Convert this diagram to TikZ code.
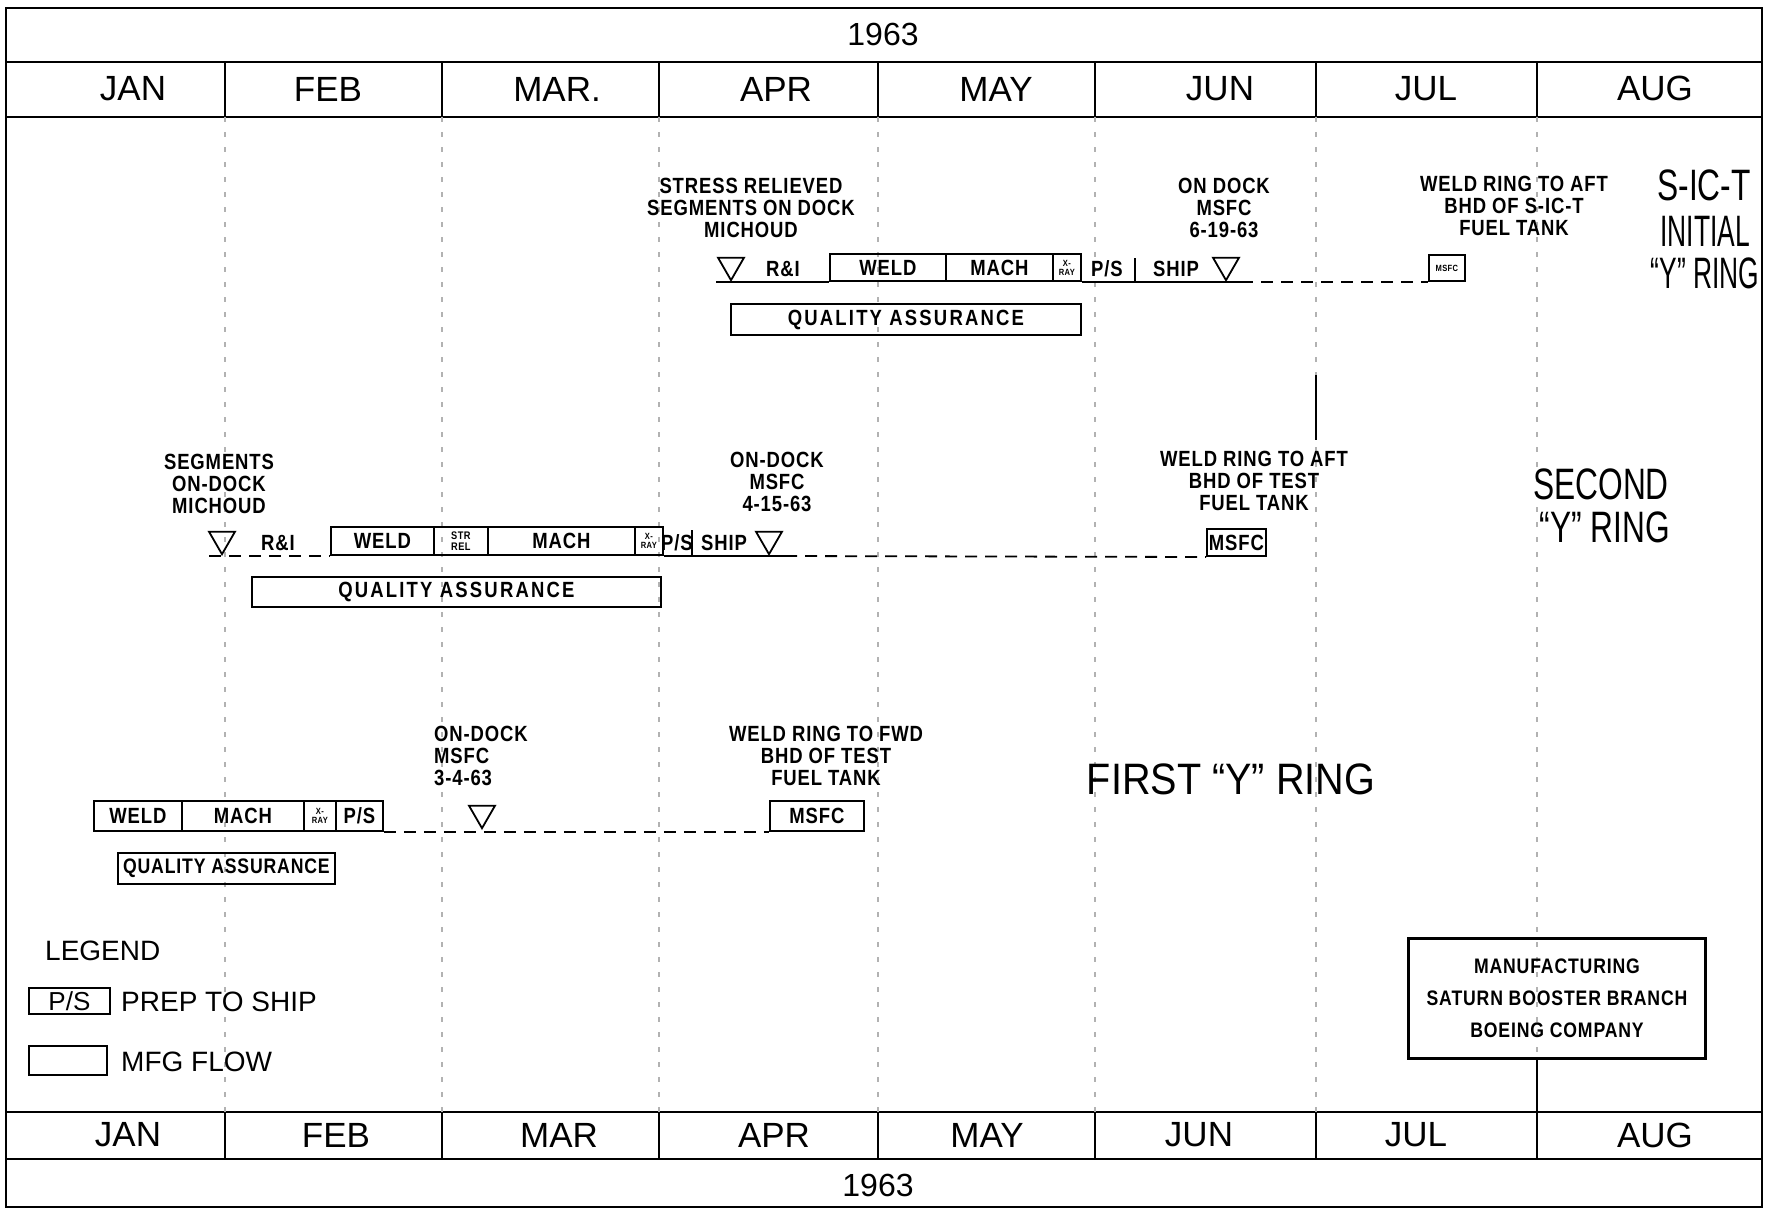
\documentclass[tikz,border=0pt]{standalone}
\usepackage{fontspec}
\usepackage{graphicx}
\setmainfont{Liberation Sans}
\newfontfamily\monfont{Liberation Sans}
\newfontfamily\labfont[FakeStretch=0.84,LetterSpace=4]{Liberation Sans Bold}
\newfontfamily\qafont[FakeStretch=0.84,LetterSpace=10]{Liberation Sans Bold}
\newfontfamily\bigfont[FakeStretch=0.72]{Liberation Sans}
\newfontfamily\bignarrow[FakeStretch=0.6]{Liberation Sans}
\newfontfamily\bigwide[FakeStretch=0.9]{Liberation Sans}
\usetikzlibrary{shapes.geometric}
\begin{document}
\begin{tikzpicture}[x=1pt,y=-1pt,
  frame/.style={line width=2.6pt},
  thinframe/.style={line width=1.6pt},
  grid/.style={black!30, line width=1.1pt, dash pattern=on 5pt off 10pt},
  mon/.style={font=\monfont\fontsize{35}{35}\selectfont, inner sep=0pt},
  yr/.style={font=\monfont\fontsize{32}{32}\selectfont, inner sep=0pt},
  lab/.style={font=\labfont\fontsize{22}{22}\selectfont, align=center, inner sep=0pt},
  big/.style={font=\bigfont\fontsize{44}{44}\selectfont, inner sep=0pt},
  leg/.style={font=\monfont\fontsize{28}{28}\selectfont, inner sep=0pt, anchor=west},
  flow/.style={draw, line width=1.8pt, inner sep=0pt, anchor=south west, font=\labfont\fontsize{22}{22}\selectfont},
  tri/.style={draw, regular polygon, regular polygon sides=3, shape border rotate=180, inner sep=0pt, minimum size=30pt, line width=1.8pt, anchor=south},
  base/.style={line width=1.8pt},
  dashline/.style={line width=1.8pt, dash pattern=on 12pt off 8pt}
]
\useasboundingbox (0,0) rectangle (1774,1210);
% ---------- frame and calendar ----------
\draw[frame] (6,8) rectangle (1762,1207);
\draw[frame] (6,62) -- (1762,62);
\draw[frame] (6,117) -- (1762,117);
\draw[frame] (6,1112) -- (1762,1112);
\draw[frame] (6,1159) -- (1762,1159);
\foreach \x in {225,442,659,878,1095,1316,1537} {
  \draw[thinframe] (\x,62) -- (\x,117);
  \draw[thinframe] (\x,1112) -- (\x,1159);
  \draw[grid] (\x,117) -- (\x,1112);
}
\draw[thinframe] (1316,375) -- (1316,440);
\node[yr] (yearT) at (883,34) {1963};
\node[yr] (yearB) at (878,1185) {1963};
\node[mon] (janT) at (133,89) {JAN};
\node[mon] (febT) at (328,89) {FEB};
\node[mon] (marT) at (557,89) {MAR.};
\node[mon] (aprT) at (776,89) {APR};
\node[mon] (mayT) at (996,89) {MAY};
\node[mon] (junT) at (1220,89) {JUN};
\node[mon] (julT) at (1426,89) {JUL};
\node[mon] (augT) at (1655,88) {AUG};
\node[mon] (janB) at (128,1135) {JAN};
\node[mon] (febB) at (336,1135) {FEB};
\node[mon] (marB) at (559,1135) {MAR};
\node[mon] (aprB) at (774,1135) {APR};
\node[mon] (mayB) at (987,1135) {MAY};
\node[mon] (junB) at (1199,1135) {JUN};
\node[mon] (julB) at (1416,1135) {JUL};
\node[mon] (augB) at (1655,1135) {AUG};
% ---------- row 1 : S-IC-T initial Y ring ----------
\node[lab] (stress) at (751,208) {STRESS RELIEVED\\SEGMENTS ON DOCK\\MICHOUD};
\node[lab] (od1) at (1224,208) {ON DOCK\\MSFC\\6-19-63};
\node[lab] (wr1) at (1514,206) {WELD RING TO AFT\\BHD OF S-IC-T\\FUEL TANK};
\node[big] (sict1) at (1704,185) {S-IC-T};
\node[big, font=\bignarrow\fontsize{44}{44}\selectfont] (sict2) at (1705,231) {INITIAL};
\node[big, font=\bignarrow\fontsize{44}{44}\selectfont] (sict3) at (1705,273) {“Y” RING};
\node[tri] (t1a) at (731,282) {};
\node[lab] (ri1) at (783,269) {R\&I};
\node[flow, minimum width=116pt, minimum height=27pt] (weld1) at (829,282) {WELD};
\node[flow, minimum width=107pt, minimum height=27pt] (mach1) at (945,282) {MACH};
\node[flow, minimum width=28pt, minimum height=27pt, font=\labfont\fontsize{9}{9}\selectfont, align=center] (xr1) at (1052,282) {X-\\RAY};
\node[lab] (ps1) at (1107,269) {P/S};
\node[lab] (ship1) at (1176,269) {SHIP};
\node[tri] (t1b) at (1226,282) {};
\coordinate (r1s) at (716,282);
\coordinate (r1e) at (1241,282);
\draw[base] (r1s) -- (weld1.south west);
\draw[base] (xr1.south east) -- (r1e);
\draw[base] (1135,258) -- (1135,282);
\node[flow, minimum width=36pt, minimum height=26pt, font=\labfont\fontsize{9}{9}\selectfont] (ms1) at (1428,282) {MSFC};
\draw[dashline] (r1e) -- (ms1.south west);
\node[flow, font=\qafont\fontsize{22}{22}\selectfont, minimum width=350pt, minimum height=31pt] (qa1) at (730,336) {QUALITY ASSURANCE};
% ---------- row 2 : second Y ring ----------
\node[lab] (seg2) at (219,484) {SEGMENTS\\ON-DOCK\\MICHOUD};
\node[lab] (od2) at (777,482) {ON-DOCK\\MSFC\\4-15-63};
\node[lab] (wr2) at (1254,481) {WELD RING TO AFT\\BHD OF TEST\\FUEL TANK};
\node[big] (sec1) at (1601,484) {SECOND};
\node[big] (sec2) at (1605,527) {“Y” RING};
\node[tri] (t2a) at (222,556) {};
\node[lab] (ri2) at (278,543) {R\&I};
\node[flow, minimum width=103pt, minimum height=28pt] (weld2) at (330,556) {WELD};
\node[flow, minimum width=54pt, minimum height=28pt, font=\labfont\fontsize{11}{11}\selectfont, align=center] (str2) at (433,556) {STR\\REL};
\node[flow, minimum width=147pt, minimum height=28pt] (mach2) at (487,556) {MACH};
\node[flow, minimum width=28pt, minimum height=28pt, font=\labfont\fontsize{9}{9}\selectfont, align=center] (xr2) at (634,556) {X-\\RAY};
\node[lab] (ps2) at (677,543) {P/S};
\node[lab] (ship2) at (724,543) {SHIP};
\node[tri] (t2b) at (769,556) {};
\coordinate (r2s) at (209,556);
\coordinate (r2e) at (785,556);
\draw[dashline] (r2s) -- (weld2.south west);
\draw[base] (xr2.south east) -- (r2e);
\draw[base] (692,530) -- (692,556);
\node[flow, minimum width=59pt, minimum height=27pt] (ms2) at (1206,557) {MSFC};
\draw[dashline] (r2e) -- (ms2.south west);
\node[flow, font=\qafont\fontsize{22}{22}\selectfont, minimum width=409pt, minimum height=30pt] (qa2) at (251,608) {QUALITY ASSURANCE};
% ---------- row 3 : first Y ring ----------
\node[lab, align=left, anchor=west] (od3) at (434,756) {ON-DOCK\\MSFC\\3-4-63};
\node[lab] (wf3) at (826,756) {WELD RING TO FWD\\BHD OF TEST\\FUEL TANK};
\node[font=\bigwide\fontsize{44}{44}\selectfont, inner sep=0pt] (first) at (1231,779) {FIRST “Y” RING};
\node[flow, minimum width=88pt, minimum height=30pt] (weld3) at (93,832) {WELD};
\node[flow, minimum width=122pt, minimum height=30pt] (mach3) at (181,832) {MACH};
\node[flow, minimum width=32pt, minimum height=30pt, font=\labfont\fontsize{9}{9}\selectfont, align=center] (xr3) at (303,832) {X-\\RAY};
\node[flow, minimum width=47pt, minimum height=30pt] (ps3) at (335,832) {P/S};
\node[tri] (t3) at (482,830) {};
\node[flow, minimum width=94pt, minimum height=30pt] (ms3) at (769,832) {MSFC};
\draw[dashline] (ps3.south east) -- (ms3.south west);
\node[flow, font=\labfont\fontsize{21}{21}\selectfont, minimum width=217pt, minimum height=31pt] (qa3) at (117,885) {QUALITY ASSURANCE};
% ---------- legend ----------
\node[leg] (legend) at (45,951) {LEGEND};
\node[flow, font=\monfont\fontsize{26}{26}\selectfont, minimum width=81pt, minimum height=26pt] (lgps) at (28,1015) {P/S};
\node[leg] (lgpst) at (121,1002) {PREP TO SHIP};
\node[flow, minimum width=78pt, minimum height=29pt] (lgmfg) at (28,1076) {};
\node[leg] (lgmfgt) at (121,1062) {MFG FLOW};
% ---------- title block ----------
\node[draw, line width=3pt, minimum width=297pt, minimum height=120pt, anchor=south west, align=center, inner sep=0pt, font=\labfont\fontsize{21}{32}\selectfont] (boeing) at (1407,1060) {MANUFACTURING\\SATURN BOOSTER BRANCH\\BOEING COMPANY};
\coordinate (bstem) at (1537,1060);
\coordinate (bfoot) at (1537,1112);
\draw[frame] (bstem) -- (bfoot);
\end{tikzpicture}
\end{document}
